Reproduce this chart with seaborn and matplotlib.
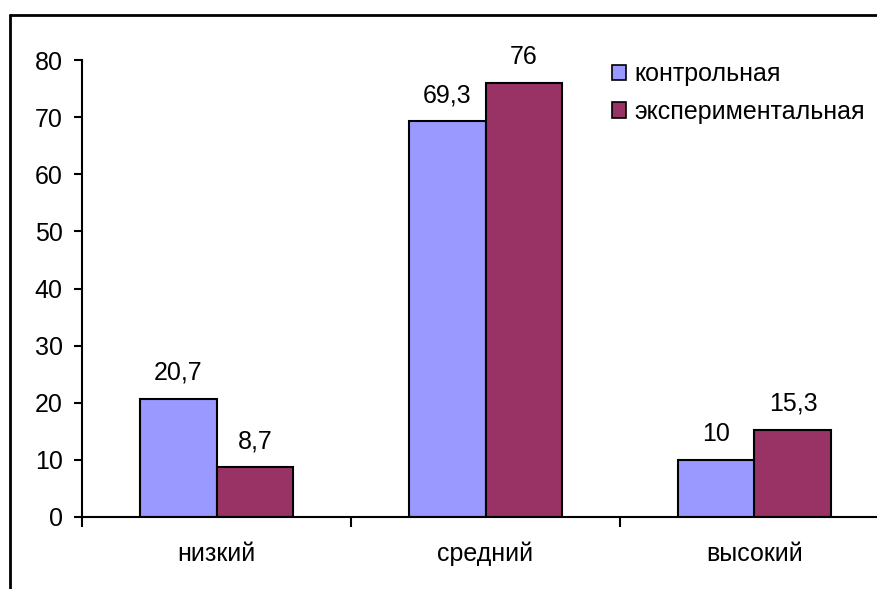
import pandas as pd
import seaborn as sns
import matplotlib.pyplot as plt
from matplotlib.patches import Patch
from matplotlib.lines import Line2D

# data
levels = ['низкий', 'средний', 'высокий']
groups = ['контрольная', 'экспериментальная']
control = [20.7, 69.3, 10]
experimental = [8.7, 76, 15.3]
colors = ['#9999FF', '#993366']

df = pd.DataFrame({
    'level': levels * 2,
    'group': [groups[0]] * 3 + [groups[1]] * 3,
    'value': control + experimental,
})

sns.set_style('white')
plt.rcParams['font.family'] = ['Liberation Sans', 'DejaVu Sans']
plt.rcParams['font.size'] = 18
plt.rcParams['text.color'] = 'black'
plt.rcParams['xtick.color'] = 'black'
plt.rcParams['ytick.color'] = 'black'

fig = plt.figure(figsize=(8.77, 5.89), dpi=100)
ax = fig.add_axes([82 / 877, 72 / 589, 807 / 877, 457 / 589])

sns.barplot(data=df, x='level', y='value', hue='group', order=levels,
            hue_order=groups, palette=colors, width=0.572,
            edgecolor='black', linewidth=1.5, saturation=1, ax=ax, legend=False)

for cont in ax.containers:
    ax.bar_label(cont, fmt=lambda v: f'{v:g}'.replace('.', ','),
                 padding=10, fontsize=18, color='black')

ax.set_xlim(-0.5, 2.5)
ax.set_ylim(0, 80)
ax.set_yticks(range(0, 81, 10))
ax.set_xlabel('')
ax.set_ylabel('')

sns.despine(ax=ax, top=True, right=True)
for side in ['left', 'bottom']:
    ax.spines[side].set_color('black')
    ax.spines[side].set_linewidth(1.5)

ax.tick_params(axis='y', direction='out', length=6, width=1.5, color='black',
               pad=8, labelsize=18, labelcolor='black', left=True)
ax.tick_params(axis='x', which='major', length=0, pad=18, labelsize=18,
               labelcolor='black')
ax.set_xticks([-0.5, 0.5, 1.5, 2.5], minor=True)
ax.tick_params(axis='x', which='minor', direction='out', length=7, width=1.5,
               color='black', bottom=True)

handles = [Patch(facecolor=c, edgecolor='black', linewidth=1.2) for c in colors]
fig.legend(handles, groups, loc='upper left',
           bbox_to_anchor=(612 / 877, 1 - 62 / 589), frameon=False,
           handlelength=0.56, handleheight=0.56, handletextpad=0.35,
           labelspacing=0.55, borderpad=0, borderaxespad=0, fontsize=18,
           labelcolor='black')

# outer frame (left and top edges visible in the cropped original)
fig.add_artist(Line2D([10 / 877, 10 / 877], [0, 1 - 15 / 589], color='black',
                      linewidth=2, transform=fig.transFigure))
fig.add_artist(Line2D([10 / 877, 1], [1 - 15 / 589, 1 - 15 / 589], color='black',
                      linewidth=2, transform=fig.transFigure))

fig.savefig('out.png', dpi=100)
